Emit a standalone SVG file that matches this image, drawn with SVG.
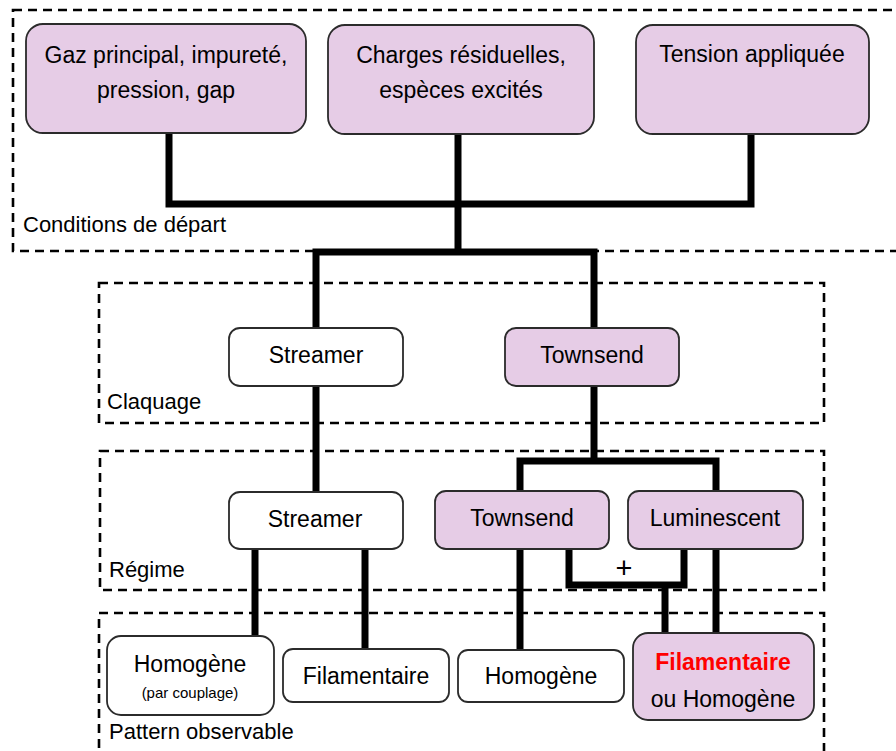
<svg xmlns="http://www.w3.org/2000/svg" width="896" height="751" viewBox="0 0 896 751">
<style>
.frame{fill:none;stroke:#000;stroke-width:2.6;stroke-dasharray:9 6}
.node{stroke:#2b2b2b;stroke-width:1.8}
.p{fill:#e6cce6}
.w{fill:#fff}
.t{font-family:"Liberation Sans",Arial,sans-serif;font-size:23px;fill:#000;text-anchor:middle}
.lbl{font-family:"Liberation Sans",Arial,sans-serif;font-size:22px;fill:#000}
.small{font-size:15px}
.red{fill:#ff0000;font-weight:bold}
.c{fill:none;stroke:#000;stroke-width:7;stroke-linejoin:miter;stroke-linecap:butt}
</style>
<rect width="896" height="751" fill="#fff"/>
<g id="frames">
<rect class="frame" x="13" y="10" width="900" height="241"/>
<rect class="frame" x="99" y="283" width="725" height="140"/>
<rect class="frame" x="100" y="451" width="724" height="139"/>
<rect class="frame" x="99" y="613" width="725" height="160"/>
<text class="lbl" x="23" y="232">Conditions de départ</text>
<text class="lbl" x="107" y="409">Claquage</text>
<text class="lbl" x="109" y="577">Régime</text>
<text class="lbl" x="109" y="739">Pattern observable</text>
</g>
<g id="connectors">
<polyline class="c" points="169,133 169,204 751,204 751,134"/>
<polyline class="c" points="458,134 458,252"/>
<polyline class="c" points="316,328 316,252 594,252 594,328"/>
<polyline class="c" points="316,386 316,492"/>
<polyline class="c" points="594,386 594,461"/>
<polyline class="c" points="520,492 520,461 716,461 716,492"/>
<polyline class="c" points="255,549 255,636"/>
<polyline class="c" points="365,549 365,649"/>
<polyline class="c" points="520,549 520,650"/>
<polyline class="c" points="569,549 569,585 684,585 684,549"/>
<polyline class="c" points="665,585 665,633"/>
<polyline class="c" points="716,549 716,633"/>
<text x="624" y="578" font-family="Liberation Sans,Arial,sans-serif" font-size="29" text-anchor="middle">+</text>
</g>
<g id="n-gaz">
<rect class="node p" x="26" y="24" width="280" height="109" rx="17"/>
<text class="t" x="166" y="63">Gaz principal, impureté,</text>
<text class="t" x="166" y="98">pression, gap</text>
</g>
<g id="n-charges">
<rect class="node p" x="328" y="25" width="266" height="109" rx="17"/>
<text class="t" x="461" y="63">Charges résiduelles,</text>
<text class="t" x="461" y="98">espèces excités</text>
</g>
<g id="n-tension">
<rect class="node p" x="636" y="25" width="233" height="109" rx="17"/>
<text class="t" x="752" y="62">Tension appliquée</text>
</g>
<g id="n-streamer1">
<rect class="node w" x="229" y="328" width="174" height="58" rx="11"/>
<text class="t" x="316" y="363">Streamer</text>
</g>
<g id="n-townsend1">
<rect class="node p" x="505" y="328" width="174" height="58" rx="11"/>
<text class="t" x="592" y="363">Townsend</text>
</g>
<g id="n-streamer2">
<rect class="node w" x="229" y="492" width="174" height="57" rx="11"/>
<text class="t" x="315" y="527">Streamer</text>
</g>
<g id="n-townsend2">
<rect class="node p" x="435" y="491" width="174" height="58" rx="11"/>
<text class="t" x="522" y="526">Townsend</text>
</g>
<g id="n-luminescent">
<rect class="node p" x="628" y="491" width="175" height="58" rx="11"/>
<text class="t" x="715" y="526">Luminescent</text>
</g>
<g id="n-homogene1">
<rect class="node w" x="107" y="636" width="167" height="79" rx="14"/>
<text class="t" x="190" y="672">Homogène</text>
<text class="t small" x="190" y="698">(par couplage)</text>
</g>
<g id="n-filamentaire1">
<rect class="node w" x="283" y="649" width="166" height="53" rx="10"/>
<text class="t" x="366" y="684">Filamentaire</text>
</g>
<g id="n-homogene2">
<rect class="node w" x="458" y="650" width="166" height="52" rx="10"/>
<text class="t" x="541" y="684">Homogène</text>
</g>
<g id="n-filhom">
<rect class="node p" x="633" y="633" width="181" height="87" rx="15"/>
<text class="t red" x="723" y="670">Filamentaire</text>
<text class="t" x="723" y="707">ou Homogène</text>
</g>
</svg>
